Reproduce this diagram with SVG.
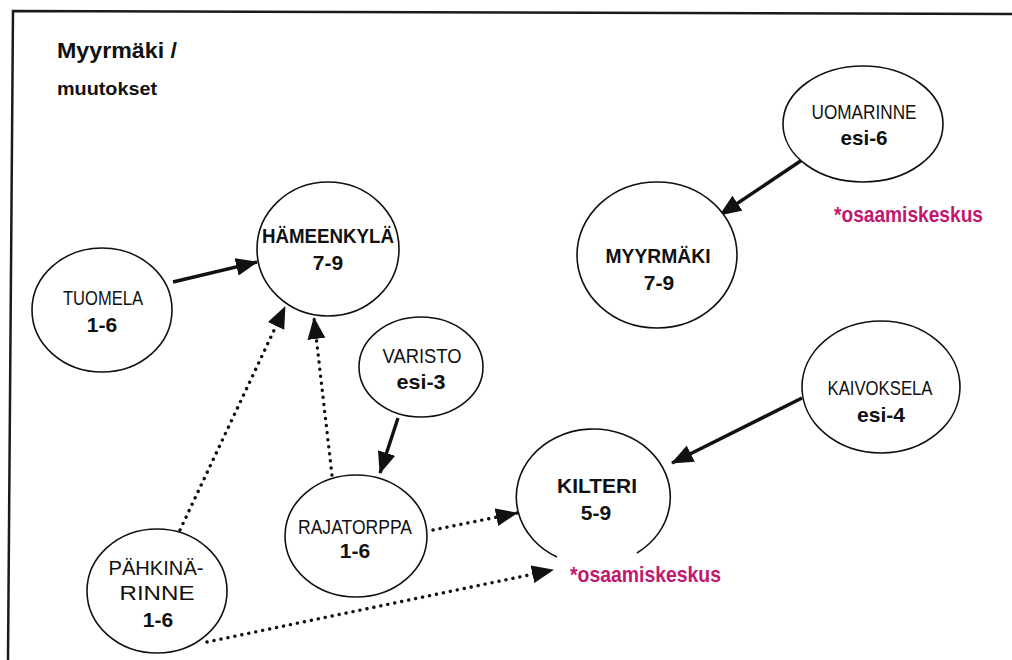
<svg xmlns="http://www.w3.org/2000/svg" width="1012" height="660" viewBox="0 0 1012 660">
<style>
.bg{fill:#ffffff}
.frame{fill:none;stroke:#1a1a1a;stroke-width:2.5}
.node{fill:#ffffff;stroke:#111;stroke-width:1.6}
.t{font-family:"Liberation Sans",Arial,sans-serif;font-size:21px;fill:#111;text-anchor:middle}
.b{font-weight:bold}
.title{font-family:"Liberation Sans",Arial,sans-serif;font-weight:bold;fill:#111}
.mag{font-family:"Liberation Sans",Arial,sans-serif;font-weight:bold;font-size:22px;fill:#c0186e}
.solid{fill:none;stroke:#111;stroke-width:3.4}
.dot{fill:none;stroke:#111;stroke-width:3.4;stroke-linecap:round;stroke-dasharray:0.1 7}
</style>
<defs>
<marker id="ah" markerUnits="userSpaceOnUse" markerWidth="24" markerHeight="20" refX="21" refY="9" orient="auto" viewBox="0 0 24 20">
<path d="M0,0 L22,9 L0,18 z" fill="#111"/>
</marker>
</defs>
<rect class="bg" x="0" y="0" width="1012" height="660"/>
<path class="frame" d="M8,660 L13,11 L1012,14"/>
<g id="title">
<text class="title" x="57" y="58" font-size="22" textLength="120" lengthAdjust="spacingAndGlyphs">Myyrmäki /</text>
<text class="title" x="57" y="95" font-size="18" textLength="100" lengthAdjust="spacingAndGlyphs">muutokset</text>
</g>
<g id="connectors">
<line class="solid" x1="173" y1="282" x2="257" y2="262" marker-end="url(#ah)"/>
<line class="solid" x1="802" y1="160" x2="720" y2="215" marker-end="url(#ah)"/>
<line class="solid" x1="398" y1="418" x2="380" y2="473" marker-end="url(#ah)"/>
<line class="solid" x1="802" y1="398" x2="672" y2="463" marker-end="url(#ah)"/>
<line class="dot" x1="332" y1="475" x2="314" y2="318" marker-end="url(#ah)"/>
<line class="dot" x1="180" y1="530" x2="285" y2="307" marker-end="url(#ah)"/>
<line class="dot" x1="433" y1="530" x2="517" y2="513" marker-end="url(#ah)"/>
<line class="dot" x1="207" y1="642" x2="553" y2="570" marker-end="url(#ah)"/>
</g>
<g id="tuomela">
<ellipse class="node" cx="102" cy="310" rx="70" ry="62"/>
<text class="t" x="103" y="305" textLength="80" lengthAdjust="spacingAndGlyphs">TUOMELA</text>
<text class="t b" x="102" y="332">1-6</text>
</g>
<g id="hameenkyla">
<ellipse class="node" cx="328" cy="249" rx="71" ry="67"/>
<text class="t b" x="328" y="243" font-size="22" textLength="132" lengthAdjust="spacingAndGlyphs">HÄMEENKYLÄ</text>
<text class="t b" x="328" y="270">7-9</text>
</g>
<g id="varisto">
<ellipse class="node" cx="421" cy="367" rx="62" ry="50"/>
<text class="t" x="422" y="363" textLength="79" lengthAdjust="spacingAndGlyphs">VARISTO</text>
<text class="t b" x="421" y="389" textLength="49" lengthAdjust="spacingAndGlyphs">esi-3</text>
</g>
<g id="rajatorppa">
<ellipse class="node" cx="356" cy="536" rx="71" ry="61"/>
<text class="t" x="355" y="534" textLength="114" lengthAdjust="spacingAndGlyphs">RAJATORPPA</text>
<text class="t b" x="355" y="558">1-6</text>
</g>
<g id="pahkinarinne">
<ellipse class="node" cx="157" cy="591" rx="70" ry="62"/>
<text class="t" x="156" y="575" textLength="95" lengthAdjust="spacingAndGlyphs">PÄHKINÄ-</text>
<text class="t" x="157" y="600" textLength="75" lengthAdjust="spacingAndGlyphs">RINNE</text>
<text class="t b" x="158" y="627">1-6</text>
</g>
<g id="kilteri">
<path class="node" d="M557,557 A77,68 0 1 1 637,553"/>
<text class="t b" x="597" y="493" textLength="80" lengthAdjust="spacingAndGlyphs">KILTERI</text>
<text class="t b" x="596" y="520">5-9</text>
<text class="mag" x="570" y="582" textLength="151" lengthAdjust="spacingAndGlyphs">*osaamiskeskus</text>
</g>
<g id="kaivoksela">
<ellipse class="node" cx="881" cy="387" rx="79" ry="66"/>
<text class="t" x="880" y="395" textLength="105" lengthAdjust="spacingAndGlyphs">KAIVOKSELA</text>
<text class="t b" x="881" y="422" textLength="48" lengthAdjust="spacingAndGlyphs">esi-4</text>
</g>
<g id="myyrmaki">
<ellipse class="node" cx="657" cy="255" rx="80" ry="73"/>
<text class="t b" x="658" y="263" textLength="105" lengthAdjust="spacingAndGlyphs">MYYRMÄKI</text>
<text class="t b" x="659" y="290">7-9</text>
</g>
<g id="uomarinne">
<ellipse class="node" cx="863" cy="124" rx="80" ry="58"/>
<text class="t" x="864" y="119" textLength="105" lengthAdjust="spacingAndGlyphs">UOMARINNE</text>
<text class="t b" x="864" y="145" textLength="47" lengthAdjust="spacingAndGlyphs">esi-6</text>
<text class="mag" x="834" y="222" textLength="149" lengthAdjust="spacingAndGlyphs">*osaamiskeskus</text>
</g>
</svg>
